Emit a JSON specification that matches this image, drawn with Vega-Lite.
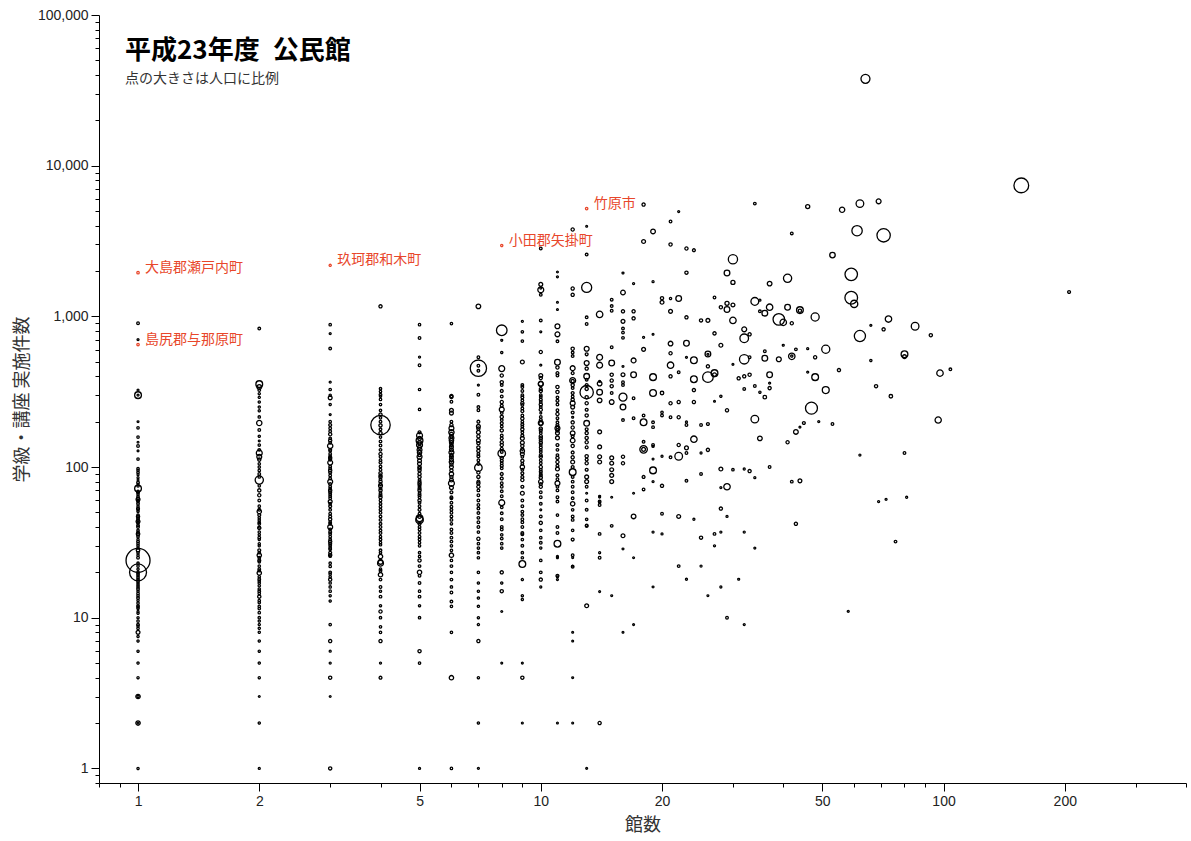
{
"$schema": "https://vega.github.io/schema/vega-lite/v6.json",
"width": 1087, "height": 768,
"autosize": {"type": "none"},
"padding": {"left": 99, "top": 15, "right": 5, "bottom": 58},
"background": "white",
"title": {"text": "平成23年度\u2002公民館", "subtitle": "点の大きさは人口に比例", "anchor": "start", "frame": "group", "orient": "top", "offset": -78, "dx": 26, "font": "Noto Sans CJK JP", "fontSize": 26, "fontWeight": "bold", "color": "#000", "subtitleFont": "Noto Sans CJK JP", "subtitleFontSize": 14, "subtitleColor": "#333", "subtitlePadding": 8},
"config": {"view": {"stroke": null},
 "axis": {"grid": false, "domainColor": "#000", "tickColor": "#000", "labelColor": "#222", "labelFont": "Liberation Sans", "labelFontSize": 14, "labelPadding": 3, "labelOverlap": false, "labelFlush": false, "titleFont": "Noto Sans CJK JP", "titleFontSize": 18, "titleFontWeight": "normal", "titleColor": "#333"}},
"data": {"values": [
{"n":1,"v":1950,"p":20,"label":"大島郡瀬戸内町"},{"n":1,"v":650,"p":20,"label":"島尻郡与那原町"},{"n":3,"v":2180,"p":15,"label":"玖珂郡和木町"},{"n":8,"v":2950,"p":15,"label":"小田郡矢掛町"},{"n":13,"v":5190,"p":20,"label":"竹原市"},
{"n":1,"v":700,"p":10},{"n":1,"v":900,"p":25},{"n":1,"v":324,"p":10},{"n":1,"v":300,"p":200},{"n":1,"v":300,"p":10},{"n":1,"v":200,"p":8},{"n":1,"v":182,"p":20},{"n":1,"v":158,"p":20},{"n":1,"v":146,"p":8},{"n":1,"v":138,"p":25},{"n":1,"v":128,"p":8},{"n":1,"v":113,"p":20},{"n":1,"v":97.5,"p":20},{"n":1,"v":89,"p":12},{"n":1,"v":85,"p":12},{"n":1,"v":82,"p":8},{"n":1,"v":77,"p":8},{"n":1,"v":72,"p":200},{"n":1,"v":69,"p":20},{"n":1,"v":66,"p":15},{"n":1,"v":62,"p":25},{"n":1,"v":59,"p":20},{"n":1,"v":55,"p":15},{"n":1,"v":52,"p":20},{"n":1,"v":50.6,"p":15},{"n":1,"v":46.9,"p":40},{"n":1,"v":44.5,"p":20},{"n":1,"v":42.5,"p":15},{"n":1,"v":40,"p":25},{"n":1,"v":37,"p":15},{"n":1,"v":34.5,"p":20},{"n":1,"v":33,"p":15},{"n":1,"v":31,"p":20},{"n":1,"v":29,"p":15},{"n":1,"v":27,"p":20},{"n":1,"v":26,"p":15},{"n":1,"v":24,"p":2600},{"n":1,"v":20,"p":1300},{"n":1,"v":22,"p":20},{"n":1,"v":21,"p":15},{"n":1,"v":20,"p":20},{"n":1,"v":19,"p":15},{"n":1,"v":18,"p":20},{"n":1,"v":17,"p":15},{"n":1,"v":16,"p":20},{"n":1,"v":15,"p":15},{"n":1,"v":14,"p":20},{"n":1,"v":13,"p":15},{"n":1,"v":12,"p":20},{"n":1,"v":11.5,"p":15},{"n":1,"v":11,"p":12},{"n":1,"v":10.7,"p":15},{"n":1,"v":10,"p":15},{"n":1,"v":8.8,"p":15},{"n":1,"v":8,"p":60},{"n":1,"v":7,"p":15},{"n":1,"v":6,"p":15},{"n":1,"v":5,"p":15},{"n":1,"v":4,"p":15},{"n":1,"v":3,"p":80},{"n":1,"v":3,"p":15},{"n":1,"v":2,"p":80},{"n":1,"v":2,"p":10},{"n":1,"v":1,"p":15},
{"n":1,"v":95,"p":15},{"n":1,"v":92,"p":20},{"n":1,"v":79,"p":25},{"n":1,"v":75,"p":20},{"n":1,"v":68,"p":30},{"n":1,"v":64,"p":20},{"n":1,"v":61,"p":60},{"n":1,"v":60,"p":20},{"n":1,"v":57,"p":25},{"n":1,"v":53,"p":30},{"n":1,"v":48,"p":20},{"n":1,"v":45.5,"p":25},{"n":1,"v":43.5,"p":60},{"n":1,"v":43,"p":20},{"n":1,"v":41,"p":25},{"n":1,"v":38,"p":20},{"n":1,"v":36,"p":50},{"n":1,"v":35.5,"p":20},{"n":1,"v":32,"p":25},{"n":1,"v":30,"p":20},{"n":1,"v":28,"p":50},{"n":1,"v":25,"p":25},{"n":1,"v":23,"p":20},{"n":1,"v":19.5,"p":25},{"n":1,"v":18.5,"p":20},{"n":1,"v":17.5,"p":25},{"n":1,"v":16.5,"p":20},{"n":1,"v":15.5,"p":25},{"n":1,"v":14.5,"p":20},{"n":1,"v":13.5,"p":25},{"n":1,"v":12.5,"p":20},{"n":1,"v":11.8,"p":20},{"n":1,"v":9.5,"p":20},{"n":1,"v":9,"p":25},{"n":1,"v":8.5,"p":20},{"n":1,"v":7.5,"p":15},
{"n":2,"v":830,"p":25},{"n":2,"v":355,"p":200},{"n":2,"v":340,"p":90},{"n":2,"v":324,"p":25},{"n":2,"v":307,"p":15},{"n":2,"v":250,"p":15},{"n":2,"v":236,"p":15},{"n":2,"v":196,"p":120},{"n":2,"v":176,"p":25},{"n":2,"v":149,"p":8},{"n":2,"v":124,"p":150},{"n":2,"v":117,"p":100},{"n":2,"v":112,"p":40},{"n":2,"v":100,"p":20},{"n":2,"v":95,"p":20},{"n":2,"v":86,"p":20},{"n":2,"v":82,"p":300},{"n":2,"v":70,"p":40},{"n":2,"v":65,"p":40},{"n":2,"v":50.6,"p":80},{"n":2,"v":46,"p":20},{"n":2,"v":43,"p":20},{"n":2,"v":40,"p":15},{"n":2,"v":39.4,"p":40},{"n":2,"v":35.5,"p":15},{"n":2,"v":33,"p":15},{"n":2,"v":31,"p":15},{"n":2,"v":30,"p":15},{"n":2,"v":26,"p":80},{"n":2,"v":23.5,"p":20},{"n":2,"v":22,"p":20},{"n":2,"v":19.8,"p":80},{"n":2,"v":18.7,"p":20},{"n":2,"v":17.5,"p":20},{"n":2,"v":16.3,"p":20},{"n":2,"v":15.5,"p":20},{"n":2,"v":14.5,"p":20},{"n":2,"v":13.8,"p":40},{"n":2,"v":12.6,"p":20},{"n":2,"v":11.9,"p":20},{"n":2,"v":10.8,"p":20},{"n":2,"v":10,"p":20},{"n":2,"v":9,"p":15},{"n":2,"v":8,"p":15},{"n":2,"v":7,"p":15},{"n":2,"v":6,"p":15},{"n":2,"v":5,"p":15},{"n":2,"v":4,"p":15},{"n":2,"v":3,"p":8},{"n":2,"v":2,"p":15},{"n":2,"v":1,"p":12},
{"n":2,"v":290,"p":15},{"n":2,"v":270,"p":15},{"n":2,"v":215,"p":20},{"n":2,"v":160,"p":15},{"n":2,"v":140,"p":20},{"n":2,"v":130,"p":25},{"n":2,"v":105,"p":20},{"n":2,"v":90,"p":25},{"n":2,"v":75,"p":20},{"n":2,"v":60,"p":25},{"n":2,"v":55,"p":20},{"n":2,"v":52,"p":25},{"n":2,"v":48,"p":30},{"n":2,"v":44.5,"p":20},{"n":2,"v":42,"p":25},{"n":2,"v":37,"p":20},{"n":2,"v":34,"p":25},{"n":2,"v":28,"p":30},{"n":2,"v":27,"p":20},{"n":2,"v":25,"p":25},{"n":2,"v":24,"p":30},{"n":2,"v":21,"p":25},{"n":2,"v":20.5,"p":20},{"n":2,"v":18,"p":25},{"n":2,"v":17,"p":20},{"n":2,"v":15,"p":25},{"n":2,"v":13,"p":20},{"n":2,"v":11.5,"p":20},{"n":2,"v":9.5,"p":15},{"n":2,"v":8.5,"p":15},
{"n":3,"v":881,"p":20},{"n":3,"v":768,"p":10},{"n":3,"v":611,"p":25},{"n":3,"v":366,"p":10},{"n":3,"v":327,"p":20},{"n":3,"v":288,"p":60},{"n":3,"v":223,"p":10},{"n":3,"v":181,"p":25},{"n":3,"v":173,"p":25},{"n":3,"v":165,"p":40},{"n":3,"v":155,"p":25},{"n":3,"v":150,"p":40},{"n":3,"v":138,"p":120},{"n":3,"v":122,"p":25},{"n":3,"v":115,"p":40},{"n":3,"v":107,"p":100},{"n":3,"v":101,"p":25},{"n":3,"v":95,"p":40},{"n":3,"v":88,"p":25},{"n":3,"v":80,"p":100},{"n":3,"v":74,"p":25},{"n":3,"v":70,"p":40},{"n":3,"v":66,"p":25},{"n":3,"v":62,"p":25},{"n":3,"v":59,"p":60},{"n":3,"v":57,"p":25},{"n":3,"v":49,"p":25},{"n":3,"v":45,"p":40},{"n":3,"v":42,"p":25},{"n":3,"v":40,"p":100},{"n":3,"v":38.5,"p":25},{"n":3,"v":36,"p":25},{"n":3,"v":34.5,"p":25},{"n":3,"v":32,"p":40},{"n":3,"v":30,"p":25},{"n":3,"v":28.5,"p":25},{"n":3,"v":26,"p":40},{"n":3,"v":25.6,"p":20},{"n":3,"v":21.9,"p":20},{"n":3,"v":18.7,"p":20},{"n":3,"v":17.9,"p":40},{"n":3,"v":16,"p":20},{"n":3,"v":15,"p":20},{"n":3,"v":12.9,"p":15},{"n":3,"v":9,"p":20},{"n":3,"v":7,"p":40},{"n":3,"v":6,"p":12},{"n":3,"v":5,"p":12},{"n":3,"v":4,"p":40},{"n":3,"v":3,"p":8},{"n":3,"v":1,"p":40},
{"n":3,"v":300,"p":15},{"n":3,"v":260,"p":15},{"n":3,"v":200,"p":20},{"n":3,"v":190,"p":30},{"n":3,"v":145,"p":25},{"n":3,"v":130,"p":30},{"n":3,"v":128,"p":20},{"n":3,"v":118,"p":25},{"n":3,"v":112,"p":30},{"n":3,"v":98,"p":25},{"n":3,"v":92,"p":30},{"n":3,"v":84,"p":25},{"n":3,"v":77,"p":30},{"n":3,"v":72,"p":20},{"n":3,"v":68,"p":30},{"n":3,"v":64,"p":25},{"n":3,"v":55,"p":30},{"n":3,"v":52,"p":25},{"n":3,"v":47,"p":30},{"n":3,"v":43,"p":25},{"n":3,"v":37,"p":30},{"n":3,"v":33,"p":25},{"n":3,"v":31,"p":30},{"n":3,"v":29,"p":25},{"n":3,"v":27,"p":30},{"n":3,"v":23,"p":20},{"n":3,"v":20,"p":25},{"n":3,"v":19.5,"p":20},{"n":3,"v":17,"p":20},{"n":3,"v":14,"p":15},
{"n":4,"v":1165,"p":40},{"n":4,"v":331,"p":20},{"n":4,"v":317,"p":20},{"n":4,"v":302,"p":25},{"n":4,"v":281,"p":20},{"n":4,"v":238,"p":20},{"n":4,"v":223,"p":40},{"n":4,"v":190,"p":1700},{"n":4,"v":200,"p":25},{"n":4,"v":189,"p":40},{"n":4,"v":168,"p":40},{"n":4,"v":139,"p":25},{"n":4,"v":122,"p":40},{"n":4,"v":117,"p":25},{"n":4,"v":111,"p":25},{"n":4,"v":101,"p":25},{"n":4,"v":91,"p":40},{"n":4,"v":86,"p":40},{"n":4,"v":80,"p":40},{"n":4,"v":75,"p":60},{"n":4,"v":70,"p":40},{"n":4,"v":67,"p":25},{"n":4,"v":63,"p":40},{"n":4,"v":60,"p":25},{"n":4,"v":54.5,"p":25},{"n":4,"v":49.7,"p":25},{"n":4,"v":44.6,"p":25},{"n":4,"v":40,"p":25},{"n":4,"v":36.5,"p":25},{"n":4,"v":34.5,"p":20},{"n":4,"v":33,"p":25},{"n":4,"v":30.5,"p":20},{"n":4,"v":25.5,"p":80},{"n":4,"v":23.5,"p":100},{"n":4,"v":23,"p":150},{"n":4,"v":19.3,"p":80},{"n":4,"v":17.9,"p":25},{"n":4,"v":16,"p":25},{"n":4,"v":13.8,"p":25},{"n":4,"v":11,"p":40},{"n":4,"v":10,"p":20},{"n":4,"v":8.7,"p":20},{"n":4,"v":8,"p":20},{"n":4,"v":7,"p":40},{"n":4,"v":5,"p":12},{"n":4,"v":4,"p":30},
{"n":4,"v":295,"p":15},{"n":4,"v":260,"p":20},{"n":4,"v":212,"p":20},{"n":4,"v":178,"p":25},{"n":4,"v":158,"p":20},{"n":4,"v":148,"p":25},{"n":4,"v":130,"p":25},{"n":4,"v":107,"p":30},{"n":4,"v":96,"p":25},{"n":4,"v":88,"p":30},{"n":4,"v":83,"p":25},{"n":4,"v":77,"p":30},{"n":4,"v":72,"p":25},{"n":4,"v":65,"p":30},{"n":4,"v":57,"p":25},{"n":4,"v":52,"p":25},{"n":4,"v":47,"p":25},{"n":4,"v":42,"p":25},{"n":4,"v":38,"p":25},{"n":4,"v":31.5,"p":20},{"n":4,"v":28,"p":25},{"n":4,"v":27,"p":20},{"n":4,"v":21,"p":20},{"n":4,"v":20.5,"p":25},{"n":4,"v":15,"p":15},{"n":4,"v":12,"p":15},
{"n":5,"v":881,"p":20},{"n":5,"v":718,"p":25},{"n":5,"v":537,"p":12},{"n":5,"v":474,"p":25},{"n":5,"v":327,"p":20},{"n":5,"v":241,"p":20},{"n":5,"v":162,"p":150},{"n":5,"v":150,"p":200},{"n":5,"v":140,"p":150},{"n":5,"v":130,"p":100},{"n":5,"v":117,"p":100},{"n":5,"v":110,"p":60},{"n":5,"v":100,"p":40},{"n":5,"v":95,"p":40},{"n":5,"v":90,"p":40},{"n":5,"v":82,"p":25},{"n":5,"v":78,"p":40},{"n":5,"v":74,"p":25},{"n":5,"v":70,"p":40},{"n":5,"v":67,"p":25},{"n":5,"v":63,"p":25},{"n":5,"v":60,"p":40},{"n":5,"v":55,"p":25},{"n":5,"v":49,"p":25},{"n":5,"v":45.7,"p":200},{"n":5,"v":44.6,"p":250},{"n":5,"v":40,"p":25},{"n":5,"v":38.5,"p":25},{"n":5,"v":34.5,"p":25},{"n":5,"v":33,"p":25},{"n":5,"v":31.5,"p":20},{"n":5,"v":25.5,"p":20},{"n":5,"v":24,"p":40},{"n":5,"v":20,"p":80},{"n":5,"v":17,"p":25},{"n":5,"v":13.8,"p":25},{"n":5,"v":10,"p":20},{"n":5,"v":6,"p":40},{"n":5,"v":5,"p":20},{"n":5,"v":1,"p":12},
{"n":5,"v":170,"p":30},{"n":5,"v":155,"p":60},{"n":5,"v":145,"p":80},{"n":5,"v":135,"p":60},{"n":5,"v":125,"p":80},{"n":5,"v":120,"p":40},{"n":5,"v":105,"p":60},{"n":5,"v":98,"p":40},{"n":5,"v":86,"p":40},{"n":5,"v":80,"p":30},{"n":5,"v":76,"p":30},{"n":5,"v":72,"p":30},{"n":5,"v":65,"p":30},{"n":5,"v":58,"p":25},{"n":5,"v":52,"p":30},{"n":5,"v":47,"p":60},{"n":5,"v":42,"p":30},{"n":5,"v":36.5,"p":25},{"n":5,"v":30,"p":20},{"n":5,"v":27,"p":20},{"n":5,"v":22,"p":25},{"n":5,"v":19,"p":25},{"n":5,"v":15,"p":20},{"n":5,"v":12,"p":15},
{"n":6,"v":895,"p":20},{"n":6,"v":296,"p":40},{"n":6,"v":292,"p":40},{"n":6,"v":271,"p":25},{"n":6,"v":238,"p":60},{"n":6,"v":228,"p":60},{"n":6,"v":181,"p":100},{"n":6,"v":170,"p":120},{"n":6,"v":156,"p":100},{"n":6,"v":150,"p":80},{"n":6,"v":136,"p":60},{"n":6,"v":125,"p":100},{"n":6,"v":117,"p":60},{"n":6,"v":108,"p":80},{"n":6,"v":100,"p":60},{"n":6,"v":90,"p":80},{"n":6,"v":78,"p":150},{"n":6,"v":73,"p":60},{"n":6,"v":63,"p":25},{"n":6,"v":62,"p":25},{"n":6,"v":54.5,"p":25},{"n":6,"v":49.7,"p":25},{"n":6,"v":44.6,"p":25},{"n":6,"v":38.5,"p":25},{"n":6,"v":36.5,"p":25},{"n":6,"v":32,"p":25},{"n":6,"v":30,"p":20},{"n":6,"v":26,"p":80},{"n":6,"v":22,"p":25},{"n":6,"v":17.9,"p":25},{"n":6,"v":14.7,"p":25},{"n":6,"v":12.8,"p":25},{"n":6,"v":11.9,"p":20},{"n":6,"v":8,"p":20},{"n":6,"v":4,"p":80},{"n":6,"v":1,"p":20},
{"n":6,"v":200,"p":25},{"n":6,"v":190,"p":40},{"n":6,"v":165,"p":60},{"n":6,"v":160,"p":40},{"n":6,"v":145,"p":60},{"n":6,"v":140,"p":40},{"n":6,"v":130,"p":60},{"n":6,"v":120,"p":40},{"n":6,"v":112,"p":60},{"n":6,"v":104,"p":40},{"n":6,"v":95,"p":40},{"n":6,"v":86,"p":40},{"n":6,"v":82,"p":60},{"n":6,"v":68,"p":30},{"n":6,"v":58,"p":25},{"n":6,"v":52,"p":25},{"n":6,"v":47,"p":25},{"n":6,"v":42,"p":20},{"n":6,"v":34,"p":25},{"n":6,"v":28,"p":20},{"n":6,"v":24,"p":20},{"n":6,"v":20,"p":20},{"n":6,"v":16,"p":20},
{"n":7,"v":1165,"p":90},{"n":7,"v":453,"p":1200},{"n":7,"v":470,"p":25},{"n":7,"v":435,"p":25},{"n":7,"v":535,"p":25},{"n":7,"v":350,"p":10},{"n":7,"v":302,"p":25},{"n":7,"v":250,"p":25},{"n":7,"v":238,"p":25},{"n":7,"v":186,"p":60},{"n":7,"v":170,"p":60},{"n":7,"v":150,"p":60},{"n":7,"v":144,"p":40},{"n":7,"v":128,"p":40},{"n":7,"v":122,"p":25},{"n":7,"v":111,"p":25},{"n":7,"v":99,"p":250},{"n":7,"v":86,"p":40},{"n":7,"v":74,"p":40},{"n":7,"v":70,"p":25},{"n":7,"v":65,"p":25},{"n":7,"v":56,"p":25},{"n":7,"v":49.5,"p":25},{"n":7,"v":43,"p":25},{"n":7,"v":33.4,"p":40},{"n":7,"v":29,"p":20},{"n":7,"v":17,"p":15},{"n":7,"v":15,"p":15},{"n":7,"v":13.5,"p":15},{"n":7,"v":11.9,"p":15},{"n":7,"v":10,"p":15},{"n":7,"v":9,"p":15},{"n":7,"v":7,"p":40},{"n":7,"v":4,"p":15},{"n":7,"v":2,"p":15},{"n":7,"v":1,"p":10},
{"n":7,"v":200,"p":30},{"n":7,"v":180,"p":40},{"n":7,"v":160,"p":40},{"n":7,"v":135,"p":40},{"n":7,"v":118,"p":30},{"n":7,"v":105,"p":30},{"n":7,"v":92,"p":40},{"n":7,"v":80,"p":30},{"n":7,"v":78,"p":40},{"n":7,"v":60,"p":25},{"n":7,"v":53,"p":25},{"n":7,"v":46,"p":25},{"n":7,"v":40,"p":25},{"n":7,"v":37,"p":20},{"n":7,"v":31,"p":20},{"n":7,"v":27,"p":20},{"n":7,"v":25,"p":20},{"n":7,"v":20,"p":20},
{"n":8,"v":808,"p":500},{"n":8,"v":694,"p":10},{"n":8,"v":575,"p":15},{"n":8,"v":450,"p":150},{"n":8,"v":405,"p":40},{"n":8,"v":366,"p":40},{"n":8,"v":294,"p":25},{"n":8,"v":241,"p":100},{"n":8,"v":228,"p":25},{"n":8,"v":205,"p":25},{"n":8,"v":186,"p":25},{"n":8,"v":162,"p":25},{"n":8,"v":146,"p":40},{"n":8,"v":126,"p":25},{"n":8,"v":123,"p":250},{"n":8,"v":106,"p":25},{"n":8,"v":98,"p":25},{"n":8,"v":78,"p":25},{"n":8,"v":74,"p":25},{"n":8,"v":69,"p":25},{"n":8,"v":58,"p":150},{"n":8,"v":49.3,"p":25},{"n":8,"v":40,"p":25},{"n":8,"v":38.5,"p":25},{"n":8,"v":33.5,"p":25},{"n":8,"v":29,"p":20},{"n":8,"v":20,"p":40},{"n":8,"v":17,"p":15},{"n":8,"v":15,"p":40},{"n":8,"v":11,"p":8},{"n":8,"v":5,"p":8},
{"n":8,"v":350,"p":25},{"n":8,"v":320,"p":30},{"n":8,"v":270,"p":40},{"n":8,"v":255,"p":30},{"n":8,"v":215,"p":40},{"n":8,"v":195,"p":30},{"n":8,"v":175,"p":40},{"n":8,"v":155,"p":30},{"n":8,"v":140,"p":40},{"n":8,"v":132,"p":30},{"n":8,"v":115,"p":40},{"n":8,"v":110,"p":30},{"n":8,"v":102,"p":30},{"n":8,"v":90,"p":30},{"n":8,"v":84,"p":30},{"n":8,"v":64,"p":25},{"n":8,"v":54,"p":25},{"n":8,"v":45,"p":25},{"n":8,"v":35.5,"p":20},{"n":8,"v":31,"p":20},
{"n":9,"v":927,"p":12},{"n":9,"v":790,"p":20},{"n":9,"v":685,"p":20},{"n":9,"v":498,"p":60},{"n":9,"v":350,"p":25},{"n":9,"v":340,"p":25},{"n":9,"v":300,"p":25},{"n":9,"v":277,"p":25},{"n":9,"v":258,"p":25},{"n":9,"v":245,"p":25},{"n":9,"v":220,"p":25},{"n":9,"v":200,"p":25},{"n":9,"v":186,"p":25},{"n":9,"v":170,"p":25},{"n":9,"v":155,"p":60},{"n":9,"v":145,"p":60},{"n":9,"v":128,"p":80},{"n":9,"v":122,"p":60},{"n":9,"v":117,"p":25},{"n":9,"v":105,"p":25},{"n":9,"v":100,"p":80},{"n":9,"v":96,"p":25},{"n":9,"v":82,"p":40},{"n":9,"v":67,"p":60},{"n":9,"v":50.6,"p":25},{"n":9,"v":45,"p":25},{"n":9,"v":43,"p":25},{"n":9,"v":36.5,"p":25},{"n":9,"v":35.8,"p":25},{"n":9,"v":30,"p":25},{"n":9,"v":22.7,"p":200},{"n":9,"v":17.9,"p":15},{"n":9,"v":14,"p":15},{"n":9,"v":13.2,"p":15},{"n":9,"v":5,"p":8},{"n":9,"v":4,"p":40},{"n":9,"v":2,"p":8},
{"n":9,"v":320,"p":25},{"n":9,"v":290,"p":30},{"n":9,"v":265,"p":40},{"n":9,"v":235,"p":30},{"n":9,"v":210,"p":40},{"n":9,"v":192,"p":30},{"n":9,"v":178,"p":40},{"n":9,"v":162,"p":30},{"n":9,"v":138,"p":40},{"n":9,"v":132,"p":30},{"n":9,"v":110,"p":40},{"n":9,"v":91,"p":30},{"n":9,"v":86,"p":30},{"n":9,"v":74,"p":30},{"n":9,"v":60,"p":25},{"n":9,"v":55,"p":25},{"n":9,"v":48,"p":25},{"n":9,"v":40,"p":25},{"n":9,"v":33,"p":20},{"n":9,"v":27,"p":20},{"n":9,"v":25,"p":20},
{"n":10,"v":2820,"p":25},{"n":10,"v":1630,"p":60},{"n":10,"v":1540,"p":10},{"n":10,"v":1390,"p":25},{"n":10,"v":1500,"p":150},{"n":10,"v":940,"p":25},{"n":10,"v":790,"p":10},{"n":10,"v":580,"p":40},{"n":10,"v":474,"p":10},{"n":10,"v":405,"p":60},{"n":10,"v":390,"p":40},{"n":10,"v":358,"p":100},{"n":10,"v":355,"p":100},{"n":10,"v":300,"p":25},{"n":10,"v":292,"p":25},{"n":10,"v":270,"p":25},{"n":10,"v":250,"p":25},{"n":10,"v":240,"p":40},{"n":10,"v":228,"p":10},{"n":10,"v":215,"p":25},{"n":10,"v":196,"p":100},{"n":10,"v":195,"p":60},{"n":10,"v":168,"p":25},{"n":10,"v":155,"p":40},{"n":10,"v":140,"p":25},{"n":10,"v":130,"p":25},{"n":10,"v":126,"p":25},{"n":10,"v":117,"p":40},{"n":10,"v":111,"p":25},{"n":10,"v":106,"p":25},{"n":10,"v":96,"p":25},{"n":10,"v":90,"p":25},{"n":10,"v":85,"p":40},{"n":10,"v":80,"p":80},{"n":10,"v":74,"p":40},{"n":10,"v":63,"p":25},{"n":10,"v":52,"p":8},{"n":10,"v":42.6,"p":40},{"n":10,"v":31.4,"p":25},{"n":10,"v":29,"p":15},{"n":10,"v":20,"p":25},{"n":10,"v":17.9,"p":40},{"n":10,"v":16,"p":12},
{"n":10,"v":330,"p":30},{"n":10,"v":320,"p":40},{"n":10,"v":280,"p":30},{"n":10,"v":260,"p":40},{"n":10,"v":205,"p":30},{"n":10,"v":180,"p":40},{"n":10,"v":175,"p":30},{"n":10,"v":160,"p":40},{"n":10,"v":150,"p":30},{"n":10,"v":145,"p":40},{"n":10,"v":135,"p":30},{"n":10,"v":120,"p":30},{"n":10,"v":100,"p":40},{"n":10,"v":93,"p":30},{"n":10,"v":88,"p":30},{"n":10,"v":77,"p":30},{"n":10,"v":68,"p":25},{"n":10,"v":57,"p":25},{"n":10,"v":47,"p":25},{"n":10,"v":38,"p":20},{"n":10,"v":34,"p":20},{"n":10,"v":24,"p":20},
{"n":11,"v":1970,"p":8},{"n":11,"v":1830,"p":10},{"n":11,"v":1240,"p":8},{"n":11,"v":1110,"p":8},{"n":11,"v":860,"p":100},{"n":11,"v":760,"p":100},{"n":11,"v":683,"p":25},{"n":11,"v":496,"p":140},{"n":11,"v":458,"p":40},{"n":11,"v":405,"p":25},{"n":11,"v":340,"p":40},{"n":11,"v":290,"p":25},{"n":11,"v":260,"p":25},{"n":11,"v":238,"p":25},{"n":11,"v":211,"p":25},{"n":11,"v":198,"p":25},{"n":11,"v":184,"p":25},{"n":11,"v":181,"p":100},{"n":11,"v":168,"p":60},{"n":11,"v":156,"p":60},{"n":11,"v":130,"p":25},{"n":11,"v":120,"p":25},{"n":11,"v":108,"p":40},{"n":11,"v":97,"p":60},{"n":11,"v":78,"p":100},{"n":11,"v":70,"p":25},{"n":11,"v":63,"p":25},{"n":11,"v":59,"p":25},{"n":11,"v":40,"p":25},{"n":11,"v":36.5,"p":25},{"n":11,"v":31,"p":200},{"n":11,"v":25.5,"p":10},{"n":11,"v":25,"p":10},{"n":11,"v":19,"p":30},{"n":11,"v":18.7,"p":10},{"n":11,"v":17.9,"p":10},{"n":11,"v":2,"p":8},
{"n":11,"v":420,"p":30},{"n":11,"v":315,"p":40},{"n":11,"v":275,"p":30},{"n":11,"v":225,"p":40},{"n":11,"v":190,"p":30},{"n":11,"v":175,"p":40},{"n":11,"v":140,"p":30},{"n":11,"v":115,"p":40},{"n":11,"v":102,"p":30},{"n":11,"v":88,"p":30},{"n":11,"v":83,"p":25},{"n":11,"v":74,"p":25},{"n":11,"v":48,"p":20},
{"n":12,"v":3770,"p":40},{"n":12,"v":1530,"p":40},{"n":12,"v":1390,"p":40},{"n":12,"v":610,"p":40},{"n":12,"v":575,"p":25},{"n":12,"v":545,"p":25},{"n":12,"v":453,"p":100},{"n":12,"v":375,"p":150},{"n":12,"v":372,"p":40},{"n":12,"v":334,"p":25},{"n":12,"v":294,"p":25},{"n":12,"v":265,"p":100},{"n":12,"v":250,"p":60},{"n":12,"v":214,"p":10},{"n":12,"v":198,"p":40},{"n":12,"v":168,"p":90},{"n":12,"v":150,"p":90},{"n":12,"v":108,"p":60},{"n":12,"v":92.5,"p":200},{"n":12,"v":86,"p":25},{"n":12,"v":80,"p":25},{"n":12,"v":74,"p":25},{"n":12,"v":57,"p":80},{"n":12,"v":47,"p":25},{"n":12,"v":44.6,"p":25},{"n":12,"v":33,"p":30},{"n":12,"v":26,"p":25},{"n":12,"v":25,"p":8},{"n":12,"v":22,"p":8},{"n":12,"v":21.8,"p":25},{"n":12,"v":8,"p":8},{"n":12,"v":7,"p":8},{"n":12,"v":4,"p":8},{"n":12,"v":2,"p":8},
{"n":12,"v":420,"p":30},{"n":12,"v":350,"p":40},{"n":12,"v":310,"p":30},{"n":12,"v":280,"p":40},{"n":12,"v":230,"p":30},{"n":12,"v":183,"p":40},{"n":12,"v":160,"p":30},{"n":12,"v":138,"p":40},{"n":12,"v":125,"p":30},{"n":12,"v":116,"p":40},{"n":12,"v":100,"p":30},{"n":12,"v":68,"p":25},{"n":12,"v":62,"p":25},{"n":12,"v":52,"p":20},{"n":12,"v":38,"p":20},
{"n":13,"v":3960,"p":8},{"n":13,"v":2570,"p":25},{"n":13,"v":1556,"p":450},{"n":13,"v":985,"p":25},{"n":13,"v":890,"p":25},{"n":13,"v":610,"p":100},{"n":13,"v":490,"p":100},{"n":13,"v":400,"p":140},{"n":13,"v":380,"p":25},{"n":13,"v":314,"p":800},{"n":13,"v":291,"p":40},{"n":13,"v":265,"p":40},{"n":13,"v":195,"p":140},{"n":13,"v":156,"p":40},{"n":13,"v":146,"p":40},{"n":13,"v":106,"p":40},{"n":13,"v":86,"p":60},{"n":13,"v":80,"p":60},{"n":13,"v":74,"p":25},{"n":13,"v":67,"p":8},{"n":13,"v":41,"p":25},{"n":13,"v":40.6,"p":25},{"n":13,"v":12,"p":60},{"n":13,"v":1,"p":8},
{"n":13,"v":560,"p":30},{"n":13,"v":450,"p":40},{"n":13,"v":350,"p":30},{"n":13,"v":330,"p":40},{"n":13,"v":240,"p":30},{"n":13,"v":220,"p":40},{"n":13,"v":178,"p":30},{"n":13,"v":168,"p":40},{"n":13,"v":135,"p":30},{"n":13,"v":118,"p":40},{"n":13,"v":112,"p":30},{"n":13,"v":96,"p":30},{"n":13,"v":60,"p":25},{"n":13,"v":52,"p":25},{"n":13,"v":45,"p":20},
{"n":14,"v":1030,"p":180},{"n":14,"v":535,"p":150},{"n":14,"v":474,"p":150},{"n":14,"v":370,"p":10},{"n":14,"v":358,"p":90},{"n":14,"v":314,"p":140},{"n":14,"v":277,"p":90},{"n":14,"v":171,"p":60},{"n":14,"v":136,"p":60},{"n":14,"v":117,"p":60},{"n":14,"v":108,"p":60},{"n":14,"v":64,"p":10},{"n":14,"v":63,"p":8},{"n":14,"v":59,"p":25},{"n":14,"v":58,"p":10},{"n":14,"v":56,"p":25},{"n":14,"v":36,"p":25},{"n":14,"v":27,"p":12},{"n":14,"v":25,"p":25},{"n":14,"v":14.9,"p":8},{"n":14,"v":2,"p":40},
{"n":15,"v":1290,"p":25},{"n":15,"v":1170,"p":25},{"n":15,"v":1090,"p":25},{"n":15,"v":624,"p":25},{"n":15,"v":490,"p":140},{"n":15,"v":410,"p":40},{"n":15,"v":375,"p":40},{"n":15,"v":344,"p":40},{"n":15,"v":310,"p":25},{"n":15,"v":270,"p":90},{"n":15,"v":115,"p":60},{"n":15,"v":106,"p":60},{"n":15,"v":96,"p":60},{"n":15,"v":88,"p":60},{"n":15,"v":80,"p":60},{"n":15,"v":63,"p":8},{"n":15,"v":40.7,"p":25},{"n":15,"v":14,"p":8},
{"n":16,"v":1940,"p":10},{"n":16,"v":1440,"p":90},{"n":16,"v":1080,"p":40},{"n":16,"v":927,"p":60},{"n":16,"v":830,"p":25},{"n":16,"v":780,"p":25},{"n":16,"v":720,"p":25},{"n":16,"v":465,"p":8},{"n":16,"v":410,"p":60},{"n":16,"v":366,"p":25},{"n":16,"v":350,"p":25},{"n":16,"v":291,"p":280},{"n":16,"v":250,"p":140},{"n":16,"v":205,"p":25},{"n":16,"v":117,"p":40},{"n":16,"v":106,"p":40},{"n":16,"v":35,"p":60},{"n":16,"v":28.6,"p":8},{"n":16,"v":8,"p":8},
{"n":17,"v":1650,"p":12},{"n":17,"v":1080,"p":40},{"n":17,"v":970,"p":40},{"n":17,"v":510,"p":100},{"n":17,"v":410,"p":140},{"n":17,"v":286,"p":25},{"n":17,"v":211,"p":25},{"n":17,"v":67,"p":8},{"n":17,"v":47,"p":90},{"n":17,"v":25,"p":8},{"n":17,"v":9,"p":8},
{"n":18,"v":5520,"p":40},{"n":18,"v":3140,"p":60},{"n":18,"v":726,"p":12},{"n":18,"v":604,"p":60},{"n":18,"v":220,"p":25},{"n":18,"v":198,"p":200},{"n":18,"v":147,"p":25},{"n":18,"v":131,"p":250},{"n":18,"v":131,"p":60},{"n":18,"v":86,"p":30},{"n":18,"v":71,"p":25},
{"n":19,"v":3660,"p":90},{"n":19,"v":1700,"p":12},{"n":19,"v":760,"p":8},{"n":19,"v":395,"p":200},{"n":19,"v":310,"p":200},{"n":19,"v":198,"p":25},{"n":19,"v":184,"p":25},{"n":19,"v":140,"p":25},{"n":19,"v":137,"p":12},{"n":19,"v":113,"p":8},{"n":19,"v":95,"p":200},{"n":19,"v":80,"p":10},{"n":19,"v":37,"p":12},{"n":19,"v":16,"p":8},
{"n":20,"v":1320,"p":40},{"n":20,"v":1240,"p":60},{"n":20,"v":310,"p":50},{"n":20,"v":231,"p":20},{"n":20,"v":220,"p":25},{"n":20,"v":118,"p":12},{"n":20,"v":75,"p":40},{"n":20,"v":49,"p":25},{"n":20,"v":36,"p":12},
{"n":21,"v":4260,"p":25},{"n":21,"v":3000,"p":40},{"n":21,"v":1315,"p":15},{"n":21,"v":1080,"p":60},{"n":21,"v":660,"p":90},{"n":21,"v":569,"p":40},{"n":21,"v":474,"p":180},{"n":21,"v":400,"p":40},{"n":21,"v":265,"p":40},{"n":21,"v":214,"p":25},{"n":21,"v":116,"p":25},
{"n":22,"v":4960,"p":10},{"n":22,"v":1315,"p":140},{"n":22,"v":426,"p":25},{"n":22,"v":270,"p":40},{"n":22,"v":214,"p":40},{"n":22,"v":140,"p":40},{"n":22,"v":118,"p":260},{"n":22,"v":47,"p":60},{"n":22,"v":22,"p":25},
{"n":23,"v":2820,"p":40},{"n":23,"v":1950,"p":40},{"n":23,"v":985,"p":40},{"n":23,"v":663,"p":140},{"n":23,"v":535,"p":10},{"n":23,"v":199,"p":12},{"n":23,"v":190,"p":25},{"n":23,"v":134,"p":60},{"n":23,"v":124,"p":25},{"n":23,"v":81,"p":25},{"n":23,"v":18,"p":12},
{"n":24,"v":2750,"p":30},{"n":24,"v":511,"p":200},{"n":24,"v":383,"p":200},{"n":24,"v":324,"p":40},{"n":24,"v":270,"p":40},{"n":24,"v":153,"p":180},{"n":24,"v":45,"p":12},
{"n":25,"v":940,"p":40},{"n":25,"v":190,"p":25},{"n":25,"v":124,"p":12},{"n":25,"v":90,"p":25},{"n":25,"v":34,"p":40},{"n":25,"v":22,"p":12},
{"n":26,"v":940,"p":60},{"n":26,"v":562,"p":140},{"n":26,"v":560,"p":10},{"n":26,"v":466,"p":40},{"n":26,"v":395,"p":500},{"n":26,"v":193,"p":30},{"n":26,"v":130,"p":40},{"n":26,"v":14,"p":8},
{"n":27,"v":1335,"p":25},{"n":27,"v":771,"p":40},{"n":27,"v":420,"p":200},{"n":27,"v":410,"p":60},{"n":27,"v":273,"p":8},{"n":27,"v":36,"p":25},{"n":27,"v":30,"p":12},
{"n":28,"v":1150,"p":40},{"n":28,"v":643,"p":60},{"n":28,"v":295,"p":15},{"n":28,"v":97,"p":60},{"n":28,"v":73,"p":10},{"n":28,"v":53,"p":40},{"n":28,"v":37,"p":12},{"n":28,"v":16,"p":12},
{"n":29,"v":1940,"p":140},{"n":29,"v":1220,"p":70},{"n":29,"v":1110,"p":140},{"n":29,"v":238,"p":40},{"n":29,"v":74,"p":180},{"n":29,"v":47,"p":12},{"n":29,"v":10,"p":25},
{"n":30,"v":2390,"p":380},{"n":30,"v":1680,"p":70},{"n":30,"v":1190,"p":60},{"n":30,"v":940,"p":180},{"n":30,"v":480,"p":8},{"n":30,"v":96,"p":20},
{"n":31,"v":388,"p":40},{"n":31,"v":18,"p":10},
{"n":32,"v":820,"p":100},{"n":32,"v":715,"p":330},{"n":32,"v":519,"p":400},{"n":32,"v":400,"p":40},{"n":32,"v":330,"p":25},{"n":32,"v":97,"p":12},{"n":32,"v":37,"p":12},{"n":32,"v":9,"p":10},
{"n":33,"v":760,"p":40},{"n":33,"v":535,"p":25},{"n":33,"v":410,"p":40},{"n":33,"v":94,"p":40},
{"n":34,"v":5600,"p":25},{"n":34,"v":1257,"p":270},{"n":34,"v":345,"p":25},{"n":34,"v":208,"p":260},{"n":34,"v":85,"p":12},{"n":34,"v":29,"p":10},
{"n":35,"v":1280,"p":12},{"n":35,"v":1080,"p":25},{"n":35,"v":314,"p":15},{"n":35,"v":155,"p":90},
{"n":36,"v":1050,"p":140},{"n":36,"v":587,"p":25},{"n":36,"v":527,"p":140},{"n":36,"v":291,"p":50},
{"n":37,"v":1650,"p":90},{"n":37,"v":1150,"p":180},{"n":37,"v":410,"p":140},{"n":37,"v":360,"p":10},{"n":37,"v":334,"p":40},{"n":37,"v":100,"p":25},
{"n":39,"v":955,"p":600},{"n":39,"v":519,"p":100},
{"n":40,"v":912,"p":180},{"n":40,"v":643,"p":10},
{"n":41,"v":1790,"p":300},{"n":41,"v":1150,"p":140},{"n":41,"v":146,"p":40},
{"n":42,"v":3550,"p":25},{"n":42,"v":900,"p":40},{"n":42,"v":543,"p":180},{"n":42,"v":545,"p":15},{"n":42,"v":80,"p":25},
{"n":43,"v":604,"p":25},{"n":43,"v":171,"p":90},{"n":43,"v":42,"p":40},
{"n":44,"v":1100,"p":200},{"n":44,"v":1090,"p":40},{"n":44,"v":184,"p":8},{"n":44,"v":81,"p":60},
{"n":45,"v":196,"p":30},{"n":46,"v":5350,"p":70},{"n":46,"v":610,"p":12},{"n":46,"v":426,"p":10},
{"n":47,"v":246,"p":640},{"n":48,"v":990,"p":290},{"n":48,"v":535,"p":40},{"n":48,"v":395,"p":200},{"n":49,"v":200,"p":10},
{"n":51,"v":605,"p":290},{"n":51,"v":324,"p":210},{"n":53,"v":2550,"p":130},{"n":53,"v":193,"p":25},{"n":55,"v":440,"p":40},{"n":56,"v":5100,"p":120},{"n":58,"v":11,"p":10},
{"n":59,"v":1900,"p":700},{"n":59,"v":1330,"p":720},{"n":60,"v":1210,"p":230},{"n":61,"v":3700,"p":480},{"n":62,"v":5600,"p":260},{"n":62,"v":740,"p":560},{"n":62,"v":120,"p":12},
{"n":64,"v":37700,"p":360},{"n":66,"v":870,"p":10},{"n":66,"v":510,"p":15},{"n":68,"v":344,"p":40},{"n":69,"v":5800,"p":100},{"n":69,"v":59,"p":12},
{"n":71,"v":3450,"p":800},{"n":71,"v":820,"p":40},{"n":72,"v":61,"p":10},{"n":73,"v":960,"p":180},{"n":74,"v":295,"p":50},{"n":76,"v":32,"p":25},
{"n":80,"v":560,"p":200},{"n":80,"v":540,"p":60},{"n":80,"v":124,"p":25},{"n":81,"v":63,"p":12},{"n":85,"v":860,"p":260},{"n":93,"v":750,"p":40},
{"n":97,"v":205,"p":170},{"n":98,"v":420,"p":180},{"n":104,"v":445,"p":25},{"n":156,"v":7400,"p":980},{"n":205,"v":1450,"p":30}
]},
"layer": [
 {"mark": {"type": "point", "shape": "circle", "filled": false, "strokeWidth": 1.3, "opacity": 1},
  "encoding": {
   "x": {"field": "n", "type": "quantitative", "scale": {"type": "log", "domain": [0.8, 400], "nice": false},
     "axis": {"title": "館数", "titlePadding": 8,
       "values": [0.8,0.9,1,2,3,4,5,6,7,8,9,10,20,30,40,50,60,70,80,90,100,200,300,400],
       "labelExpr": "indexof([1,2,5,10,20,50,100,200], datum.value) >= 0 ? format(datum.value, 'd') : ''",
       "tickSize": {"condition": {"test": "indexof([1,2,5,10,20,50,100,200], datum.value) >= 0", "value": 8}, "value": 4}}},
   "y": {"field": "v", "type": "quantitative", "scale": {"type": "log", "domain": [0.8, 100000], "nice": false},
     "axis": {"title": "学級・講座 実施件数", "titlePadding": 6,
       "values": [0.8,0.9,1,2,3,4,5,6,7,8,9,10,20,30,40,50,60,70,80,90,100,200,300,400,500,600,700,800,900,1000,2000,3000,4000,5000,6000,7000,8000,9000,10000,20000,30000,40000,50000,60000,70000,80000,90000,100000],
       "labelExpr": "indexof([1,10,100,1000,10000,100000], datum.value) >= 0 ? format(datum.value, ',') : ''",
       "tickSize": {"condition": {"test": "indexof([1,10,100,1000,10000,100000], datum.value) >= 0", "value": 8}, "value": 4}}},
   "size": {"field": "p", "type": "quantitative", "scale": {"type": "linear", "domain": [0, 2600], "range": [1.5, 575]}, "legend": null},
   "color": {"condition": {"test": "isValid(datum.label)", "value": "#e8472b"}, "value": "#000"}
  }},
 {"transform": [{"filter": "isValid(datum.label)"}],
  "mark": {"type": "text", "align": "left", "baseline": "middle", "dx": 7, "dy": -5, "font": "Noto Sans CJK JP", "fontSize": 14, "color": "#e8472b"},
  "encoding": {
   "x": {"field": "n", "type": "quantitative"},
   "y": {"field": "v", "type": "quantitative"},
   "text": {"field": "label"}
  }}
]
}
